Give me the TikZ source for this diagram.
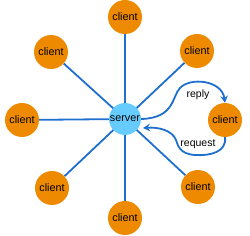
\documentclass[tikz,border=0pt]{standalone}
\usepackage{fontspec}
\setmainfont{Liberation Sans}
\usetikzlibrary{arrows.meta}
\definecolor{corange}{HTML}{EE8A00}
\definecolor{cblue}{HTML}{1F6FCF}
\definecolor{sblue}{HTML}{66CCFF}
\begin{document}
\begin{tikzpicture}[x=1pt,y=1pt,
  clientnode/.style={circle,fill=corange,minimum size=34pt,inner sep=0pt,font=\fontsize{10.8}{12}\selectfont},
  servernode/.style={circle,fill=sblue,minimum size=32pt,inner sep=0pt,font=\fontsize{10.8}{12}\selectfont},
  link/.style={cblue,line width=1.8pt},
  flow/.style={cblue,line width=1.8pt,-{Stealth[length=7pt,width=7.5pt]}},
  lbl/.style={font=\fontsize{10.5}{12}\selectfont}]
\useasboundingbox (0,0) rectangle (250,-236);
\coordinate (sc) at (125,-119);
\node[clientnode] (c1) at (125,-17) {client};
\node[clientnode] (c2) at (51,-52) {client};
\node[clientnode] (c3) at (197,-51) {client};
\node[clientnode] (c4) at (22,-120) {client};
\node[clientnode] (c5) at (225,-120) {client};
\node[clientnode] (c6) at (52,-188) {client};
\node[clientnode] (c7) at (125,-218) {client};
\node[clientnode] (c8) at (198,-187) {client};
\foreach \c in {c1,c2,c3,c4,c6,c7,c8} \draw[link] (sc) -- (\c);
\node[servernode] (s) at (sc) {server};
\coordinate (rtop) at (180,-88);
\draw[flow] (s.east) .. controls (175,-118) and (172,-96) .. (rtop) .. controls (190,-77) and (222,-80) .. (c5.north);
\node[lbl] (reply) at (198,-95) {reply};
\coordinate (qbot) at (195,-155);
\coordinate (qleft) at (176,-140);
\coordinate (qend) at (143,-128);
\draw[flow] (c5.south) .. controls (227,-152) and (210,-156) .. (qbot) .. controls (180,-154) and (178,-146) .. (qleft) .. controls (172,-130) and (158,-127) .. (qend);
\node[lbl] (request) at (198,-144) {request};
\end{tikzpicture}
\end{document}
